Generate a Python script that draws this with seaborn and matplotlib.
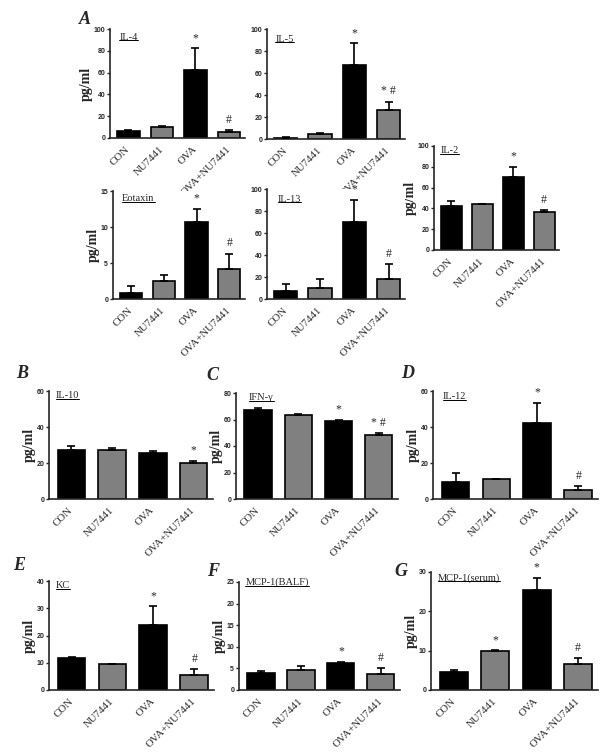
import matplotlib
matplotlib.use('Agg')
import matplotlib.pyplot as plt
import seaborn as sns
from matplotlib.lines import Line2D

groups = ['CON', 'NU7441', 'OVA', 'OVA+NU7441']
bar_colors = ['black', '#808080', 'black', '#808080']

il4_mean = [6.5, 10, 62, 5.5]
il4_err = [0.8, 1.3, 20.5, 1.5]
il4_marks = ['', '', '*', '#']

il5_mean = [1, 4.5, 67, 26]
il5_err = [0.5, 0.8, 20, 8]
il5_marks = ['', '', '*', '* #']

il2_mean = [42, 44, 70, 37]
il2_err = [5.5, 0.5, 10, 1]
il2_marks = ['', '', '*', '#']

eotaxin_mean = [0.9, 2.5, 10.7, 4.2]
eotaxin_err = [0.9, 0.9, 1.8, 2.1]
eotaxin_marks = ['', '', '*', '#']

il13_mean = [7, 10, 70, 18]
il13_err = [7, 8, 20, 14]
il13_marks = ['', '', '*', '#']

il10_mean = [27.5, 27.3, 25.8, 19.8]
il10_err = [1.8, 0.8, 1.0, 1.5]
il10_marks = ['', '', '', '*']

ifng_mean = [67, 63.5, 59, 48]
ifng_err = [1.5, 0.3, 1.0, 2.0]
ifng_marks = ['', '', '*', '* #']

il12_mean = [9.5, 11, 42.5, 5]
il12_err = [5, 0.3, 11, 2]
il12_marks = ['', '', '*', '#']

kc_mean = [11.7, 9.5, 24, 5.5]
kc_err = [0.3, 0.2, 6.7, 2.3]
kc_marks = ['', '', '*', '#']

mcp_balf_mean = [4.0, 4.6, 6.3, 3.7]
mcp_balf_err = [0.4, 0.9, 0.2, 1.3]
mcp_balf_marks = ['', '', '*', '#']

mcp_serum_mean = [4.7, 10, 25.5, 6.5]
mcp_serum_err = [0.3, 0.1, 3.0, 1.6]
mcp_serum_marks = ['', '*', '*', '#']

W, H = 612, 753
serif = 'Liberation Serif'
sans = 'Liberation Sans'

# title, mean, err, marks, ymax, ystep, box px (x0, x1, ytop, ybot), ylabel, title pos
panels = [
    ('IL-4', il4_mean, il4_err, il4_marks, 100, 20, (110, 245, 29, 138), True, (0.07, 0.965)),
    ('IL-5', il5_mean, il5_err, il5_marks, 100, 20, (267, 405, 29, 139), False, (0.06, 0.95)),
    ('IL-2', il2_mean, il2_err, il2_marks, 100, 20, (434, 559, 146, 250), True, (0.05, 1.0)),
    ('Eotaxin', eotaxin_mean, eotaxin_err, eotaxin_marks, 15, 5, (113, 245, 191, 299), True, (0.07, 0.97)),
    ('IL-13', il13_mean, il13_err, il13_marks, 100, 20, (267, 405, 189, 299), False, (0.08, 0.95)),
    ('IL-10', il10_mean, il10_err, il10_marks, 60, 20, (49, 213, 391, 499), True, (0.04, 1.0)),
    ('IFN-γ', ifng_mean, ifng_err, ifng_marks, 80, 20, (236, 398, 393, 499), True, (0.08, 1.0)),
    ('IL-12', il12_mean, il12_err, il12_marks, 60, 20, (433, 598, 391, 499), True, (0.06, 0.99)),
    ('KC', kc_mean, kc_err, kc_marks, 40, 10, (49, 214, 581, 690), True, (0.04, 1.0)),
    ('MCP-1(BALF)', mcp_balf_mean, mcp_balf_err, mcp_balf_marks, 25, 5, (239, 400, 582, 690), True, (0.04, 1.04)),
    ('MCP-1(serum)', mcp_serum_mean, mcp_serum_err, mcp_serum_marks, 30, 10, (431, 598, 572, 690), True, (0.04, 0.99)),
]

letters = [('A', 85, 20), ('B', 22, 374), ('C', 212, 375), ('D', 408, 374),
           ('E', 19, 566), ('F', 213, 572), ('G', 401, 572)]

sns.set_style('ticks')
fig = plt.figure(figsize=(W / 100, H / 100), dpi=100)

titles = []
for name, mean, err, marks, ymax, ystep, box, ylab, tpos in panels:
    x0, x1, yt, yb = box
    ax = fig.add_axes([x0 / W, 1 - yb / H, (x1 - x0) / W, (yb - yt) / H])
    sns.barplot(x=groups, y=mean, hue=groups, palette=bar_colors, order=groups,
                edgecolor='black', linewidth=1.2, width=0.68, legend=False, ax=ax)
    ax.errorbar(range(4), mean, yerr=[[0] * 4, err], fmt='none', ecolor='black',
                elinewidth=1.2, capsize=3, capthick=1.2, zorder=4)
    for i, m in enumerate(marks):
        if m:
            ax.annotate(m, (i, mean[i] + err[i]), xytext=(0, 3), textcoords='offset points',
                        ha='center', va='bottom', fontfamily=serif, fontsize=8.5)
    ax.set_xlim(-0.55, 3.48)
    ax.set_ylim(0, ymax)
    ax.set_yticks(range(0, ymax + 1, ystep))
    ax.set_yticklabels([str(t) for t in range(0, ymax + 1, ystep)],
                       fontfamily=sans, fontweight='bold', fontsize=5)
    ax.set_xticks(range(4))
    ax.set_xticklabels(groups, rotation=45, ha='right', va='center',
                       rotation_mode='anchor', fontfamily=serif, fontsize=7.8)
    ax.tick_params(axis='y', length=2.5, width=1, pad=1)
    ax.tick_params(axis='x', length=0, pad=7)
    for s in ['left', 'bottom']:
        ax.spines[s].set_linewidth(1.2)
    sns.despine(ax=ax)
    ax.set_xlabel('')
    if ylab:
        ax.set_ylabel('pg/ml', fontfamily=serif, fontweight='bold', fontsize=10, labelpad=0.5)
    else:
        ax.set_ylabel('')
    t = ax.text(tpos[0], tpos[1], name, transform=ax.transAxes, ha='left', va='top',
                fontfamily=serif, fontsize=7.5)
    titles.append(t)

for letter, lx, ly in letters:
    fig.text(lx / W, 1 - ly / H, letter, ha='center', va='center', fontfamily=serif,
             fontweight='bold', fontstyle='italic', fontsize=13)

# underline the cytokine names
fig.canvas.draw()
renderer = fig.canvas.get_renderer()
inv = fig.transFigure.inverted()
for t in titles:
    bb = t.get_window_extent(renderer)
    (ux0, uy), (ux1, _) = inv.transform([(bb.x0, bb.y0 + 1.5), (bb.x1, bb.y0 + 1.5)])
    fig.add_artist(Line2D([ux0, ux1], [uy, uy], transform=fig.transFigure,
                          color='black', linewidth=0.7))

fig.savefig('out.png', dpi=100)
